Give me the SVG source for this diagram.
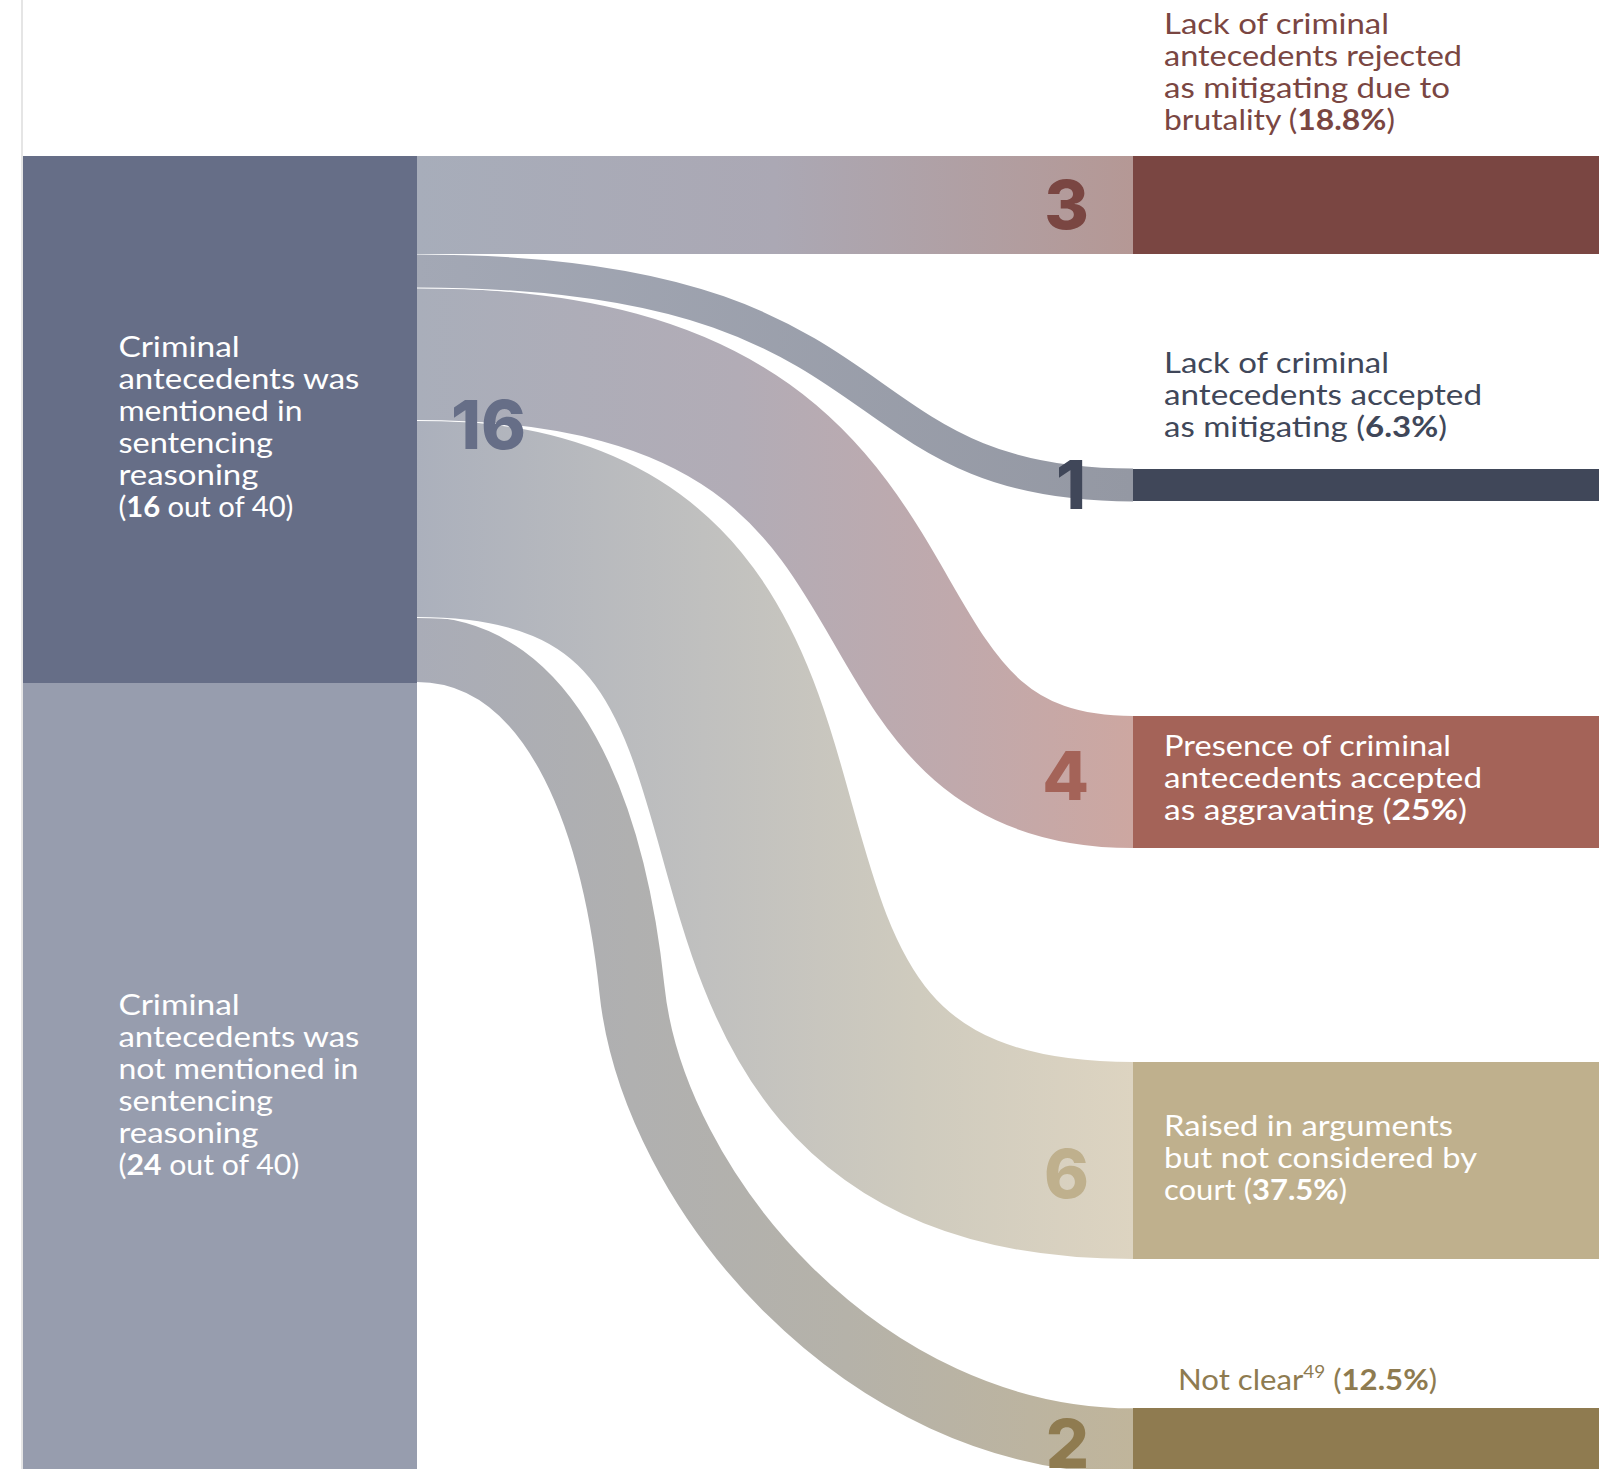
<svg xmlns="http://www.w3.org/2000/svg" width="1599" height="1469" viewBox="0 0 1599 1469">
<style>
.lbl{font-family:Lato,"Noto Sans",sans-serif;font-size:28px}
.num{font-family:Inter,"Open Sans",Lato,sans-serif;font-size:68px;font-weight:800;text-anchor:end}
.b{font-weight:700}
.w{fill:#ffffff}
.flow{fill:none}
.edge{fill:none;stroke:#ffffff}
</style>
<defs>
<linearGradient id="g3" gradientUnits="userSpaceOnUse" x1="417" y1="0" x2="1133" y2="0"><stop offset="0" stop-color="#A7ADBA"/><stop offset="0.5" stop-color="#ABA8B4"/><stop offset="1" stop-color="#B59895"/></linearGradient>
<linearGradient id="g1" gradientUnits="userSpaceOnUse" x1="417" y1="0" x2="1133" y2="0"><stop offset="0" stop-color="#A3A8B5"/><stop offset="1" stop-color="#9498A3"/></linearGradient>
<linearGradient id="g4" gradientUnits="userSpaceOnUse" x1="417" y1="0" x2="1133" y2="0"><stop offset="0" stop-color="#A9AEBA"/><stop offset="0.45" stop-color="#B2ACB6"/><stop offset="0.75" stop-color="#C0A9AC"/><stop offset="1" stop-color="#CDA7A1"/></linearGradient>
<linearGradient id="g6" gradientUnits="userSpaceOnUse" x1="417" y1="0" x2="1133" y2="0"><stop offset="0" stop-color="#ABB0BC"/><stop offset="0.4" stop-color="#C0C0BF"/><stop offset="0.7" stop-color="#CFCBBE"/><stop offset="1" stop-color="#DDD4C1"/></linearGradient>
<linearGradient id="g2" gradientUnits="userSpaceOnUse" x1="417" y1="0" x2="1133" y2="0"><stop offset="0" stop-color="#A9ACB7"/><stop offset="0.3" stop-color="#B0B0B0"/><stop offset="0.6" stop-color="#B5B2A9"/><stop offset="1" stop-color="#C0B59B"/></linearGradient>
<path id="p2" d="M417,649.3 C550,649.3 613,811 632,990 C653,1189 862,1441 1133,1441"/>
<path id="p6" d="M417,518.5 C934,518.5 575,1160.5 1133,1160.5"/>
<path id="p4" d="M417,354 C992,354 801,782 1133,782"/>
<path id="p1" d="M417,271 C914,271 826,485 1133,485"/>
</defs>
<rect width="1599" height="1469" fill="#ffffff"/>
<line x1="22" y1="0" x2="22" y2="1469" stroke="#DDDDDD" stroke-width="1.5"/>

<g id="connectors">
<use href="#p2" class="edge" stroke-width="67.4"/>
<use id="flow-2" href="#p2" class="flow" stroke="url(#g2)" stroke-width="65.4"/>
<use href="#p6" class="edge" stroke-width="199"/>
<use id="flow-6" href="#p6" class="flow" stroke="url(#g6)" stroke-width="197"/>
<use href="#p4" class="edge" stroke-width="134"/>
<use id="flow-4" href="#p4" class="flow" stroke="url(#g4)" stroke-width="132"/>
<use href="#p1" class="edge" stroke-width="35"/>
<use id="flow-1" href="#p1" class="flow" stroke="url(#g1)" stroke-width="33"/>
<rect id="flow-3" x="417" y="156" width="716" height="98" fill="url(#g3)"/>
</g>

<g id="node-mentioned">
<rect x="23" y="156" width="394" height="527" fill="#666E87"/>
<g class="lbl w">
<text x="118.4" y="357" textLength="121.4" lengthAdjust="spacingAndGlyphs">Criminal</text>
<text x="118.4" y="389" textLength="241" lengthAdjust="spacingAndGlyphs">antecedents was</text>
<text x="118.4" y="421" textLength="184" lengthAdjust="spacingAndGlyphs">mentioned in</text>
<text x="118.4" y="453" textLength="154.6" lengthAdjust="spacingAndGlyphs">sentencing</text>
<text x="118.4" y="485" textLength="140" lengthAdjust="spacingAndGlyphs">reasoning</text>
<text x="118.4" y="517" textLength="175" lengthAdjust="spacingAndGlyphs">(<tspan class="b">16</tspan> out of 40)</text>
</g>
<text class="num" x="526" y="449" fill="#666E87">16</text>
</g>

<g id="node-not-mentioned">
<rect x="23" y="683" width="394" height="786" fill="#979DAE"/>
<g class="lbl w">
<text x="118.4" y="1015" textLength="121.4" lengthAdjust="spacingAndGlyphs">Criminal</text>
<text x="118.4" y="1047" textLength="241" lengthAdjust="spacingAndGlyphs">antecedents was</text>
<text x="118.4" y="1079" textLength="240" lengthAdjust="spacingAndGlyphs">not mentioned in</text>
<text x="118.4" y="1111" textLength="154.6" lengthAdjust="spacingAndGlyphs">sentencing</text>
<text x="118.4" y="1143" textLength="140" lengthAdjust="spacingAndGlyphs">reasoning</text>
<text x="118.4" y="1175" textLength="181" lengthAdjust="spacingAndGlyphs">(<tspan class="b">24</tspan> out of 40)</text>
</g>
</g>

<g id="node-rejected">
<rect x="1133" y="156" width="466" height="98" fill="#7A4642"/>
<g class="lbl" fill="#7A4642">
<text x="1164" y="34" textLength="225" lengthAdjust="spacingAndGlyphs">Lack of criminal</text>
<text x="1164" y="66" textLength="298" lengthAdjust="spacingAndGlyphs">antecedents rejected</text>
<text x="1164" y="98" textLength="286" lengthAdjust="spacingAndGlyphs">as mitigating due to</text>
<text x="1164" y="130" textLength="231" lengthAdjust="spacingAndGlyphs">brutality (<tspan class="b">18.8%</tspan>)</text>
</g>
<text class="num" x="1089" y="229" fill="#7A4642">3</text>
</g>

<g id="node-accepted-mitigating">
<rect x="1133" y="469" width="466" height="32" fill="#404759"/>
<g class="lbl" fill="#404759">
<text x="1164" y="373" textLength="225" lengthAdjust="spacingAndGlyphs">Lack of criminal</text>
<text x="1164" y="405" textLength="318" lengthAdjust="spacingAndGlyphs">antecedents accepted</text>
<text x="1164" y="437" textLength="283" lengthAdjust="spacingAndGlyphs">as mitigating (<tspan class="b">6.3%</tspan>)</text>
</g>
<text class="num" x="1086" y="509" fill="#404759">1</text>
</g>

<g id="node-aggravating">
<rect x="1133" y="716" width="466" height="132" fill="#A46358"/>
<g class="lbl w">
<text x="1164" y="756" textLength="287" lengthAdjust="spacingAndGlyphs">Presence of criminal</text>
<text x="1164" y="788" textLength="318" lengthAdjust="spacingAndGlyphs">antecedents accepted</text>
<text x="1164" y="820" textLength="303" lengthAdjust="spacingAndGlyphs">as aggravating (<tspan class="b">25%</tspan>)</text>
</g>
<text class="num" x="1089" y="800" fill="#A46358">4</text>
</g>

<g id="node-not-considered">
<rect x="1133" y="1062" width="466" height="197" fill="#BFB08D"/>
<g class="lbl w">
<text x="1164" y="1136" textLength="289" lengthAdjust="spacingAndGlyphs">Raised in arguments</text>
<text x="1164" y="1168" textLength="313" lengthAdjust="spacingAndGlyphs">but not considered by</text>
<text x="1164" y="1200" textLength="183" lengthAdjust="spacingAndGlyphs">court (<tspan class="b">37.5%</tspan>)</text>
</g>
<text class="num" x="1089" y="1198" fill="#BFB08D">6</text>
</g>

<g id="node-not-clear">
<rect x="1133" y="1408" width="466" height="61" fill="#8F7B50"/>
<text class="lbl" fill="#8E7B50" x="1178" y="1390" textLength="259" lengthAdjust="spacingAndGlyphs">Not clear<tspan font-size="17" dy="-12">49</tspan><tspan dy="12"> (</tspan><tspan class="b">12.5%</tspan>)</text>
<text class="num" x="1089" y="1468" fill="#8F7B50">2</text>
</g>
</svg>
